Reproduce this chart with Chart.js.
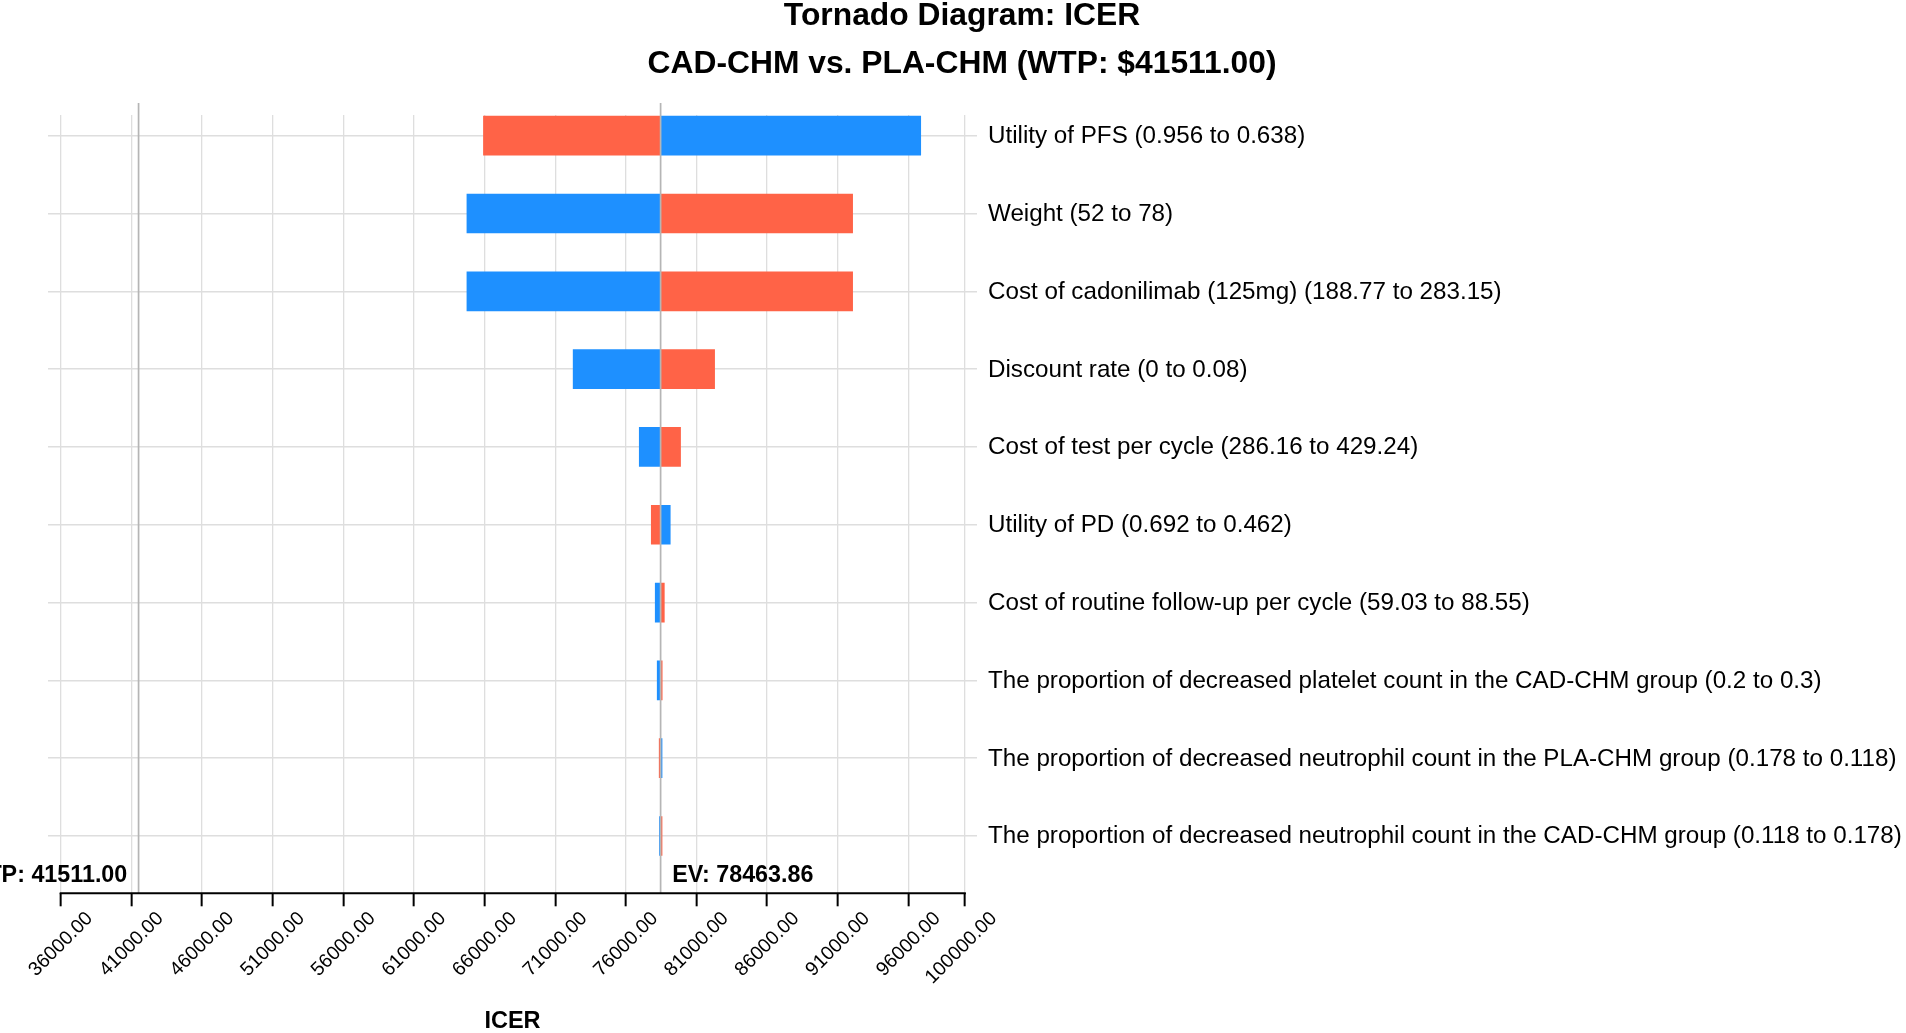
<!DOCTYPE html>
<html>
<head>
<meta charset="utf-8">
<script src="https://cdn.jsdelivr.net/npm/chart.js@4.4.0/dist/chart.umd.min.js"></script>
<style>
  html, body { margin: 0; padding: 0; background: #ffffff; overflow: hidden; }
  canvas { display: block; }
</style>
</head>
<body>
<canvas id="c" width="1906" height="1033" style="width:1906px;height:1033px"></canvas>
<script>
// ---------------- data ----------------
const parameterLabels = [
  'Utility of PFS (0.956 to 0.638)',
  'Weight (52 to 78)',
  'Cost of cadonilimab (125mg) (188.77 to 283.15)',
  'Discount rate (0 to 0.08)',
  'Cost of test per cycle (286.16 to 429.24)',
  'Utility of PD (0.692 to 0.462)',
  'Cost of routine follow-up per cycle (59.03 to 88.55)',
  'The proportion of decreased platelet count in the CAD-CHM group (0.2 to 0.3)',
  'The proportion of decreased neutrophil count in the PLA-CHM group (0.178 to 0.118)',
  'The proportion of decreased neutrophil count in the CAD-CHM group (0.118 to 0.178)'
];
// ICER at the low input value (blue) and at the high input value (red)
const lowInputIcer  = [96900, 64730, 64730, 72250, 76930, 79170, 78060, 78200, 78590, 78360];
const highInputIcer = [65900, 92080, 92080, 82310, 79900, 77780, 78750, 78600, 78340, 78590];
const expectedIcer = 78463.86;
const wtpThreshold = 41511.00;
const xTickValues = [36000, 41000, 46000, 51000, 56000, 61000, 66000, 71000, 76000, 81000, 86000, 91000, 96000, 100000];
const titleLines = ['Tornado Diagram: ICER', 'CAD-CHM vs. PLA-CHM (WTP: $' + wtpThreshold.toFixed(2) + ')'];
const xAxisTitle = 'ICER';

// ---------------- styling ----------------
const FONT = "'Liberation Sans', Arial, Helvetica, sans-serif";
const BLUE = '#1E90FF';
const RED = '#FF6347';
const GRID = '#dedede';
const REFLINE = '#b5b5b5';

Chart.defaults.font.family = FONT;
Chart.defaults.color = '#000000';

const toPoints = arr => arr.map((v, i) => ({ y: i, x: [expectedIcer, v] }));

const titlePlugin = {
  id: 'twoLineTitle',
  afterDraw(chart) {
    const { ctx } = chart;
    ctx.save();
    ctx.fillStyle = '#000000';
    ctx.font = 'bold 31.8px ' + FONT;
    ctx.textAlign = 'center';
    ctx.textBaseline = 'middle';
    ctx.fillText(titleLines[0], 962, 16.5);
    ctx.fillText(titleLines[1], 962, 63.9);
    ctx.restore();
  }
};

const refLinesPlugin = {
  id: 'refLines',
  afterDatasetsDraw(chart) {
    const { ctx, chartArea, scales: { x } } = chart;
    const bottom = chartArea.bottom;
    const top = chartArea.top - 12;
    ctx.save();
    // WTP and EV reference lines
    ctx.strokeStyle = REFLINE;
    ctx.lineWidth = 1.7;
    [wtpThreshold, expectedIcer].forEach(v => {
      const px = x.getPixelForValue(v);
      ctx.beginPath();
      ctx.moveTo(px, top);
      ctx.lineTo(px, bottom);
      ctx.stroke();
    });
    // x axis line spanning first to last tick
    ctx.strokeStyle = '#000000';
    ctx.lineWidth = 2;
    ctx.beginPath();
    ctx.moveTo(x.getPixelForValue(xTickValues[0]) - 1, bottom);
    ctx.lineTo(x.getPixelForValue(xTickValues[xTickValues.length - 1]) + 1, bottom);
    ctx.stroke();
    // annotations
    ctx.fillStyle = '#000000';
    ctx.font = 'bold 23.3px ' + FONT;
    ctx.textBaseline = 'alphabetic';
    ctx.textAlign = 'right';
    ctx.fillText('WTP: ' + wtpThreshold.toFixed(2), x.getPixelForValue(wtpThreshold) - 11.3, bottom - 11.3);
    ctx.textAlign = 'left';
    ctx.fillText('EV: ' + expectedIcer.toFixed(2), x.getPixelForValue(expectedIcer) + 11.6, bottom - 11.3);
    ctx.restore();
  }
};

new Chart(document.getElementById('c'), {
  type: 'bar',
  data: {
    datasets: [
      { label: 'High input', data: toPoints(highInputIcer), backgroundColor: RED, borderWidth: 0 },
      { label: 'Low input', data: toPoints(lowInputIcer), backgroundColor: BLUE, borderWidth: 0 }
    ]
  },
  options: {
    indexAxis: 'y',
    responsive: false,
    animation: false,
    devicePixelRatio: 1,
    layout: { padding: { left: 48, right: 0, top: 115, bottom: 0 } },
    datasets: { bar: { grouped: false, barPercentage: 0.51, categoryPercentage: 1 } },
    plugins: {
      legend: { display: false },
      tooltip: { enabled: false },
      title: { display: false }
    },
    scales: {
      x: {
        type: 'linear',
        min: 35100,
        max: 100860,
        afterBuildTicks: s => { s.ticks = xTickValues.map(v => ({ value: v })); },
        afterFit: s => { s.height = 139.7; s.paddingLeft = 0; s.paddingRight = 0; },
        grid: { color: GRID, lineWidth: 1.3, drawTicks: true, tickLength: 13, tickColor: '#000000', tickWidth: 2 },
        border: { display: false },
        ticks: {
          autoSkip: false,
          minRotation: 45,
          maxRotation: 45,
          padding: 1,
          labelOffset: 29,
          color: '#000000',
          font: { family: FONT, size: 19.5 },
          callback: v => Number(v).toFixed(2)
        },
        title: {
          display: true,
          text: xAxisTitle,
          color: '#000000',
          font: { family: FONT, size: 23.5, weight: 'bold', lineHeight: 0.94 },
          padding: { top: 0, bottom: 0 }
        }
      },
      y: {
        type: 'linear',
        position: 'right',
        reverse: true,
        offset: false,
        min: -0.266,
        max: 9.736,
        afterBuildTicks: s => { s.ticks = parameterLabels.map((_, i) => ({ value: i })); },
        afterFit: s => { s.width = 929; s.paddingTop = 0; s.paddingBottom = 0; },
        grid: { color: GRID, lineWidth: 1.6, drawTicks: false, offset: false },
        border: { display: false },
        ticks: {
          autoSkip: false,
          padding: 11,
          labelOffset: 0.8,
          color: '#000000',
          font: { family: FONT, size: 24.2 },
          callback: v => parameterLabels[v]
        }
      }
    }
  },
  plugins: [refLinesPlugin, titlePlugin]
});
</script>
</body>
</html>
